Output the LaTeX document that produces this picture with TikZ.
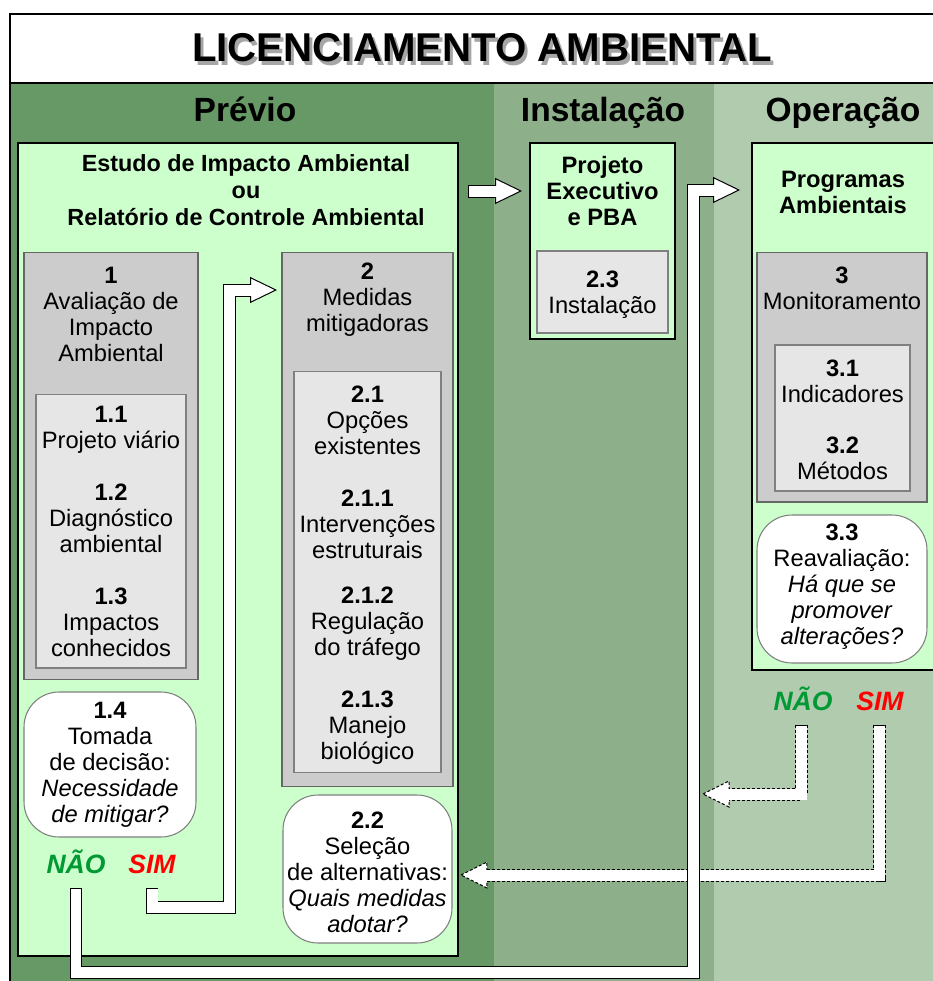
\documentclass[tikz,border=0pt]{standalone}
\usepackage{fontspec}
\setmainfont{Liberation Sans}
\usetikzlibrary{arrows.meta,calc}

\definecolor{previo}{HTML}{669966}
\definecolor{instal}{HTML}{8DB08A}
\definecolor{operac}{HTML}{B1CBAE}
\definecolor{boxgreen}{HTML}{CCFFCC}
\definecolor{boxgray}{HTML}{CCCCCC}
\definecolor{boxlight}{HTML}{E6E6E6}
\definecolor{naogreen}{HTML}{009933}

\begin{document}
\begin{tikzpicture}[x=0.02cm, y=-0.02cm,
    box/.style={draw, inner sep=0pt, outer sep=0pt},
    greenbox/.style={box, fill=boxgreen, line width=0.9pt},
    graybox/.style={box, fill=boxgray, draw=black!60, line width=0.6pt},
    lightbox/.style={box, fill=boxlight, draw=black!50, line width=0.6pt},
    roundbox/.style={box, fill=white, draw=black!50, line width=0.6pt, rounded corners=0.7cm},
    txt/.style={align=center, inner sep=0pt, font=\fontsize{13.5}{14.8}\selectfont},
    colhead/.style={anchor=base, inner sep=0pt, font=\fontsize{19.1}{21}\bfseries},
    answer/.style={anchor=base, inner sep=0pt, font=\fontsize{15.1}{16}\bfseries\itshape},
    fat/.style={line width=0.26cm,
        -{Triangle[length=0.54cm, width=0.52cm, fill=white, line width=0.02cm]},
        postaction={draw=white, line width=0.22cm, solid, -,
            shorten <=0.02cm, shorten >=0.48cm}},
    dashes/.style={dash pattern=on 0.06cm off 0.04cm},
    fatdash/.style={line width=0.26cm, dashes,
        postaction={draw=white, line width=0.22cm, solid,
            shorten <=0.02cm, shorten >=-0.06cm}},
    dashhead/.style={fill=white, draw, dashes, line width=0.02cm}]

        \useasboundingbox (0,0) rectangle (933,981);
        \clip (0,0) rectangle (933,981);

        % Columns
        \fill[previo] (10,83) rectangle (494,1000);
        \fill[instal] (494,83) rectangle (714,1000);
        \fill[operac] (714,83) rectangle (950,1000);
        \draw[line width=0.9pt] (10,14) rectangle (950,1000);
        \draw[line width=0.9pt, fill=white] (10,14) rectangle (950,83);

        % Title
        \node [anchor=base, text=black!35, font=\fontsize{22.9}{26}\bfseries] (shadow) at (485,65) {LICENCIAMENTO AMBIENTAL};
        \node [anchor=base, font=\fontsize{22.9}{26}\bfseries] (title) at (482,61) {LICENCIAMENTO AMBIENTAL};

        % Column headers
        \node [colhead] (hprevio) at (245,121) {Prévio};
        \node [colhead] (hinstal) at (603,121) {Instalação};
        \node [colhead] (hoperac) at (843,121) {Operação};

        % Prévio
        \node [greenbox,
            minimum width=8.8cm,
            minimum height=16.26cm] (PRE) at (238,549.5){};
        \node [txt, font=\fontsize{13.3}{15.3}\bfseries] (head) at (246,190)
            {Estudo de Impacto Ambiental\\ou\\Relatório de Controle Ambiental};

        % Box 1
        \node [graybox,
            minimum width=3.48cm,
            minimum height=8.56cm] (B1) at (111,466){};
        \node [lightbox,
            minimum width=3.0cm,
            minimum height=5.48cm] (B11) at (111,531){};
        \node [txt] (t1) at (111,314) {\textbf{1}\\Avaliação de\\Impacto\\Ambiental};
        \node [txt] (t11) at (111,430) {\textbf{1.1}\\Projeto viário};
        \node [txt] (t12) at (111,518) {\textbf{1.2}\\Diagnóstico\\ambiental};
        \node [txt] (t13) at (111,622) {\textbf{1.3}\\Impactos\\conhecidos};

        % Box 1.4
        \node [roundbox,
            minimum width=3.44cm,
            minimum height=2.9cm] (R14) at (110,764.5){};
        \node [txt] (t14) at (110,765) {\textbf{1.4}\\Tomada\\de decisão:\\\textit{Necessidade}\\\textit{de mitigar?}};
        \node [answer, text=naogreen] (nao1) at (76,873) {NÃO};
        \node [answer, text=red] (sim1) at (152,873) {SIM};

        % Box 2
        \node [graybox,
            minimum width=3.42cm,
            minimum height=10.7cm] (B2) at (367.5,519.5){};
        \node [lightbox,
            minimum width=2.94cm,
            minimum height=8.04cm] (B21) at (367.5,572){};
        \node [txt] (t2) at (367.5,300) {\textbf{2}\\Medidas\\mitigadoras};
        \node [txt] (t21) at (367.5,420) {\textbf{2.1}\\Opções\\existentes};
        \node [txt] (t211) at (367.5,524) {\textbf{2.1.1}\\Intervenções\\estruturais};
        \node [txt] (t212) at (367.5,624) {\textbf{2.1.2}\\Regulação\\do tráfego};
        \node [txt] (t213) at (367.5,728) {\textbf{2.1.3}\\Manejo\\biológico};

        % Box 2.2
        \node [roundbox,
            minimum width=3.38cm,
            minimum height=2.96cm] (R22) at (367.5,869){};
        \node [txt] (t22) at (367.5,872) {\textbf{2.2}\\Seleção\\de alternativas:\\\textit{Quais medidas}\\\textit{adotar?}};

        % Instalação
        \node [greenbox,
            minimum width=2.9cm,
            minimum height=3.92cm] (PROJ) at (602.5,241){};
        \node [txt, font=\fontsize{13.5}{14.8}\bfseries] (proj) at (602.5,191) {Projeto\\Executivo\\e PBA};
        \node [lightbox,
            minimum width=2.62cm,
            minimum height=1.64cm] (B23) at (602.5,292){};
        \node [txt] (t23) at (602.5,295) {\textbf{2.3}\\Instalação};

        % Operação
        \node [greenbox,
            minimum width=3.68cm,
            minimum height=10.54cm] (PROG) at (844,406.5){};
        \node [txt, font=\fontsize{13.5}{14.8}\bfseries] (prog) at (843,192) {Programas\\Ambientais};
        \node [graybox,
            minimum width=3.4cm,
            minimum height=5.0cm] (B3) at (842,377){};
        \node [txt] (t3) at (842,288) {\textbf{3}\\Monitoramento};
        \node [lightbox,
            minimum width=2.7cm,
            minimum height=2.92cm] (B31) at (842.5,418){};
        \node [txt] (t31) at (842.5,381) {\textbf{3.1}\\Indicadores};
        \node [txt] (t32) at (842.5,458) {\textbf{3.2}\\Métodos};
        \node [roundbox,
            minimum width=3.4cm,
            minimum height=2.96cm] (R33) at (842,589){};
        \node [txt] (t33) at (842,587) {\textbf{3.3}\\Reavaliação:\\\textit{Há que se}\\\textit{promover}\\\textit{alterações?}};
        \node [answer, text=naogreen] (nao2) at (803,710) {NÃO};
        \node [answer, text=red] (sim2) at (880,710) {SIM};

        % Dashed arrows
        \coordinate (back) at (703,794);
        \coordinate (sel) at ($(R22.east)+(9,6)$);
        \filldraw [dashhead] (back) -- ++(26,-13) -- ++(0,26) -- cycle;
        \draw [fatdash] ($(nao2.south)+(-2,14)$) |- ($(back)+(26,0)$);
        \filldraw [dashhead] (sel) -- ++(26,-13) -- ++(0,26) -- cycle;
        \draw [fatdash] ($(sim2.south)+(-1,14)$) |- ($(sel)+(26,0)$);

        % Solid arrows
        \draw [fat] ($(PRE.east |- proj)+(10,0)$) -- ($(PROJ.west |- proj)+(-8,0)$);
        \draw [fat] ($(sim1.south)+(0,14)$) -- ++(0,20) -| ($(B2.west |- t2)+(-53,-10)$) -- ($(B2.west |- t2)+(-5,-10)$);
        \draw [fat] ($(nao1.south)+(0,14)$) -- ++(0,85) -| ($(PROG.west |- prog)+(-59,-2)$) -- ($(PROG.west |- prog)+(-12,-2)$);

\end{tikzpicture}
\end{document}
